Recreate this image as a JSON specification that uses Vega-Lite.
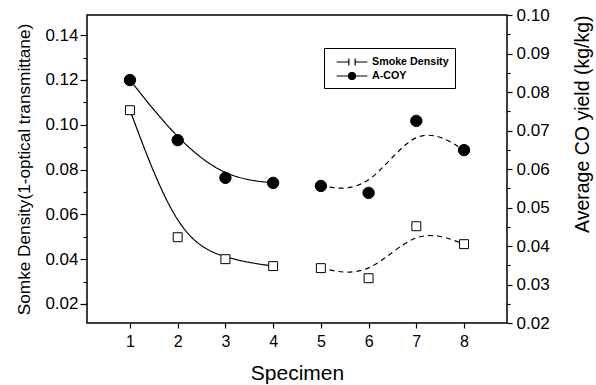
{
  "$schema": "https://vega.github.io/schema/vega-lite/v6.json",
  "width": 420,
  "height": 308,
  "autosize": {"type": "none"},
  "padding": {"left": 87, "top": 15, "right": 89, "bottom": 62},
  "config": {
    "font": "Liberation Sans",
    "view": {"stroke": "black", "strokeWidth": 1.5},
    "axis": {"grid": false, "domain": false, "tickColor": "black", "labelColor": "black", "titleColor": "black", "titleFontWeight": "normal", "labelFont": "Liberation Sans", "titleFont": "Liberation Sans", "tickWidth": 1.2}
  },
  "data": {"values": [
    {"specimen": 1, "series": "Smoke Density", "value": 0.1065, "part": "solid"},
    {"specimen": 2, "series": "Smoke Density", "value": 0.0498, "part": "solid"},
    {"specimen": 3, "series": "Smoke Density", "value": 0.040, "part": "solid"},
    {"specimen": 4, "series": "Smoke Density", "value": 0.0369, "part": "solid"},
    {"specimen": 5, "series": "Smoke Density", "value": 0.036, "part": "dashed"},
    {"specimen": 6, "series": "Smoke Density", "value": 0.0315, "part": "dashed"},
    {"specimen": 7, "series": "Smoke Density", "value": 0.0547, "part": "dashed"},
    {"specimen": 8, "series": "Smoke Density", "value": 0.0467, "part": "dashed"},
    {"specimen": 1, "series": "A-COY", "value": 0.0831, "part": "solid"},
    {"specimen": 2, "series": "A-COY", "value": 0.0675, "part": "solid"},
    {"specimen": 3, "series": "A-COY", "value": 0.0577, "part": "solid"},
    {"specimen": 4, "series": "A-COY", "value": 0.0564, "part": "solid"},
    {"specimen": 5, "series": "A-COY", "value": 0.0556, "part": "dashed"},
    {"specimen": 6, "series": "A-COY", "value": 0.0538, "part": "dashed"},
    {"specimen": 7, "series": "A-COY", "value": 0.0725, "part": "dashed"},
    {"specimen": 8, "series": "A-COY", "value": 0.0649, "part": "dashed"}
  ]},
  "encoding": {
    "x": {
      "field": "specimen", "type": "quantitative",
      "scale": {"domain": [0.1, 8.9], "nice": false, "zero": false},
      "axis": {"values": [1, 2, 3, 4, 5, 6, 7, 8], "format": "d", "title": "Specimen", "titleFontSize": 21, "labelFontSize": 16, "tickSize": 5, "labelPadding": 5, "titlePadding": 13}
    }
  },
  "layer": [
    {
      "transform": [{"filter": "datum.series === 'Smoke Density'"}],
      "encoding": {
        "y": {"field": "value", "type": "quantitative", "scale": {"domain": [0.0115, 0.149], "nice": false, "zero": false}}
      },
      "layer": [
        {
          "mark": {"type": "line", "interpolate": "basis", "color": "black", "strokeWidth": 1.2},
          "encoding": {
            "detail": {"field": "part"},
            "strokeDash": {"field": "part", "type": "nominal", "scale": {"domain": ["solid", "dashed"], "range": [[1, 0], [5, 4]]}, "legend": null},
            "y": {"field": "value", "type": "quantitative", "axis": {"orient": "left", "values": [0.02, 0.04, 0.06, 0.08, 0.10, 0.12, 0.14], "format": ".2f", "title": "Somke Density(1-optical transmittane)", "titleFontSize": 17.2, "labelFontSize": 17, "tickSize": 7, "labelPadding": 2, "titlePadding": 11}}
          }
        },
        {
          "mark": {"type": "point", "shape": "square", "filled": true, "fill": "white", "stroke": "black", "strokeWidth": 1, "opacity": 1, "size": 80},
          "encoding": {
            "y": {"field": "value", "type": "quantitative", "axis": {"orient": "left", "values": [0.03, 0.05, 0.07, 0.09, 0.11, 0.13], "labels": false, "title": null, "tickSize": 4}}
          }
        },
        {
          "transform": [{"filter": "false"}],
          "mark": {"type": "point", "filled": true, "fill": "black", "stroke": "black", "strokeWidth": 1.2, "opacity": 1},
          "encoding": {
            "y": {"field": "value", "type": "quantitative", "axis": null},
            "shape": {"field": "series", "type": "nominal", "scale": {"domain": ["Smoke Density", "A-COY"], "range": ["M-2.2,0H-0.45M0.45,0H2.2M-0.45,-0.5V0.5M0.45,-0.5V0.5", "M-2.2,0H2.2M0.5,0A0.5,0.5 0 1,1 -0.5,0A0.5,0.5 0 1,1 0.5,0Z"]},
              "legend": {"title": null, "orient": "none", "legendX": 237, "legendY": 33, "padding": 6, "strokeColor": "black", "fillColor": "white", "labelFontSize": 10.7, "labelFontWeight": "bold", "labelColor": "black", "symbolStrokeWidth": 1.2, "symbolSize": 196, "symbolOffset": 14, "rowPadding": 0, "labelOffset": 12}}
          }
        }
      ],
      "resolve": {"axis": {"y": "independent"}}
    },
    {
      "transform": [{"filter": "datum.series === 'A-COY'"}],
      "encoding": {
        "y": {"field": "value", "type": "quantitative", "scale": {"domain": [0.02, 0.10], "nice": false, "zero": false}}
      },
      "layer": [
        {
          "mark": {"type": "line", "interpolate": "basis", "color": "black", "strokeWidth": 1.2},
          "encoding": {
            "detail": {"field": "part"},
            "strokeDash": {"field": "part", "type": "nominal", "scale": {"domain": ["solid", "dashed"], "range": [[1, 0], [5, 4]]}, "legend": null},
            "y": {"field": "value", "type": "quantitative", "axis": {"orient": "right", "values": [0.02, 0.03, 0.04, 0.05, 0.06, 0.07, 0.08, 0.09, 0.10], "format": ".2f", "title": "Average CO yield (kg/kg)", "titleFontSize": 19.5, "labelFontSize": 17, "tickSize": 5, "labelPadding": 4, "titlePadding": 24, "titleAngle": 270, "titleBaseline": "top", "titleAnchor": "end"}}
          }
        },
        {
          "mark": {"type": "point", "shape": "circle", "filled": true, "fill": "black", "stroke": "black", "strokeWidth": 1, "opacity": 1, "size": 130},
          "encoding": {
            "y": {"field": "value", "type": "quantitative", "axis": {"orient": "right", "values": [0.025, 0.035, 0.045, 0.055, 0.065, 0.075, 0.085, 0.095], "labels": false, "title": null, "tickSize": 3}}
          }
        }
      ],
      "resolve": {"axis": {"y": "independent"}}
    }
  ],
  "resolve": {"scale": {"y": "independent"}}
}
